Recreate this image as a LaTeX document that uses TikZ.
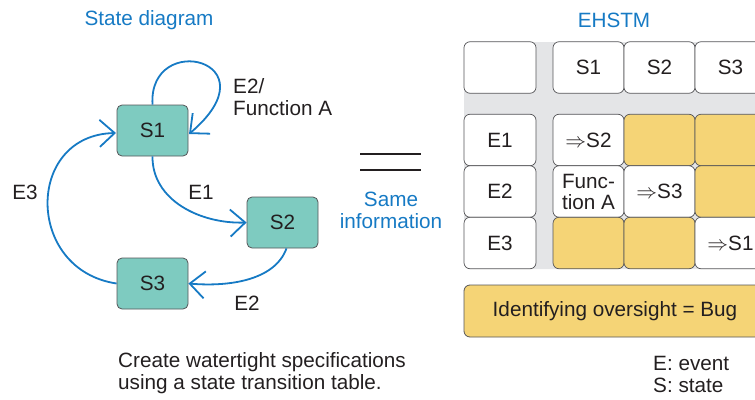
\documentclass[tikz,border=0pt]{standalone}
\usepackage{fontspec}
\setmainfont{Liberation Sans}
\usetikzlibrary{arrows.meta}
\definecolor{dblue}{RGB}{22,122,196}
\definecolor{teal1}{RGB}{126,203,192}
\definecolor{yel}{RGB}{245,212,118}
\definecolor{gbg}{RGB}{228,229,231}
\definecolor{txt}{RGB}{35,31,32}
\definecolor{bord}{RGB}{85,85,88}
\begin{document}
\begin{tikzpicture}[x=1pt,y=-1pt,
  font=\fontsize{20.7}{22}\selectfont, text=txt,
  statebox/.style={draw=bord, line width=0.8pt, fill=teal1, rounded corners=5pt,
     minimum width=71pt, minimum height=51pt, inner sep=0pt},
  cell/.style={draw=bord, line width=0.7pt, rounded corners=6pt,
     minimum width=71pt, minimum height=51.5pt, inner sep=0pt, align=center},
  wcell/.style={cell, fill=white},
  ycell/.style={cell, fill=yel},
  trans/.style={draw=dblue, line width=1.8pt,
     -{Straight Barb[length=15pt,width=27pt,line width=1.8pt]}},
  lbl/.style={inner sep=0pt, align=left},
  btitle/.style={text=dblue, inner sep=0pt}]
\useasboundingbox (0,0) rectangle (755,399);
\clip (0,0) rectangle (755,399);

% titles
\node[btitle] (t1) at (149,20) {State diagram};
\node[btitle] (t2) at (614,20) {EHSTM};

% states
\node[statebox] (S1) at (152.5,130.5) {S1};
\node[statebox] (S2) at (282.5,222.5) {S2};
\node[statebox] (S3) at (152.5,283.5) {S3};

% transitions
\coordinate (s1e) at (189,134);
\coordinate (s1w) at (116,133);
\draw[trans] (S1.north) .. controls (148,30) and (276,60) .. (s1e);
\draw[trans] (S1.south) .. controls (152,200) and (200,224) .. (S2.west);
\draw[trans] ([xshift=4pt]S2.south) .. controls (275,280) and (230,287) .. (S3.east);
\draw[trans] (S3.west) .. controls (25,270) and (25,135) .. (s1w);

% transition labels
\node[lbl, anchor=west] (lA) at (233,97) {E2/\\Function A};
\node[lbl] (l1) at (201,192) {E1};
\node[lbl] (l3) at (25,192) {E3};
\node[lbl] (l2) at (247,303) {E2};

% equals sign
\coordinate (eqa) at (360,154);
\coordinate (eqb) at (421,154);
\coordinate (eqc) at (360,170);
\coordinate (eqd) at (421,170);
\draw[line width=2.4pt, color=txt] (eqa) -- (eqb);
\draw[line width=2.4pt, color=txt] (eqc) -- (eqd);
\node[btitle, align=center] (same) at (391,210) {Same\\information};

% table background
\fill[gbg, rounded corners=6pt] (464,42) rectangle (790,269);

% header row
\node[wcell, minimum width=72pt] (h0) at (500,67.5) {};
\node[wcell] (h1) at (588.5,67.5) {S1};
\node[wcell] (h2) at (659.5,67.5) {S2};
\node[wcell] (h3) at (730.5,67.5) {S3};

% row headers
\node[wcell, minimum width=72pt] (r1) at (500,140) {E1};
\node[wcell, minimum width=72pt] (r2) at (500,191.5) {E2};
\node[wcell, minimum width=72pt] (r3) at (500,243) {E3};

% body
\node[wcell] (c11) at (588.5,140) {$\Rightarrow$S2};
\node[ycell] (c12) at (659.5,140) {};
\node[ycell] (c13) at (730.5,140) {};
\node[wcell, font=\fontsize{20.7}{21}\selectfont] (c21) at (588.5,191.5) {Func-\\tion A};
\node[wcell] (c22) at (659.5,191.5) {$\Rightarrow$S3};
\node[ycell] (c23) at (730.5,191.5) {};
\node[ycell] (c31) at (588.5,243) {};
\node[ycell] (c32) at (659.5,243) {};
\node[wcell] (c33) at (730.5,243) {$\Rightarrow$S1};

% bug box
\node[draw=bord, line width=0.8pt, fill=yel, rounded corners=6pt,
  minimum width=302pt, minimum height=52pt, inner sep=0pt] (bug) at (615,311) {Identifying oversight = Bug};

% bottom notes
\node[lbl, anchor=west] (note) at (118,373) {Create watertight specifications\\using a state transition table.};
\node[lbl, anchor=west] (legend) at (653,374) {E: event\\S: state};
\end{tikzpicture}
\end{document}
